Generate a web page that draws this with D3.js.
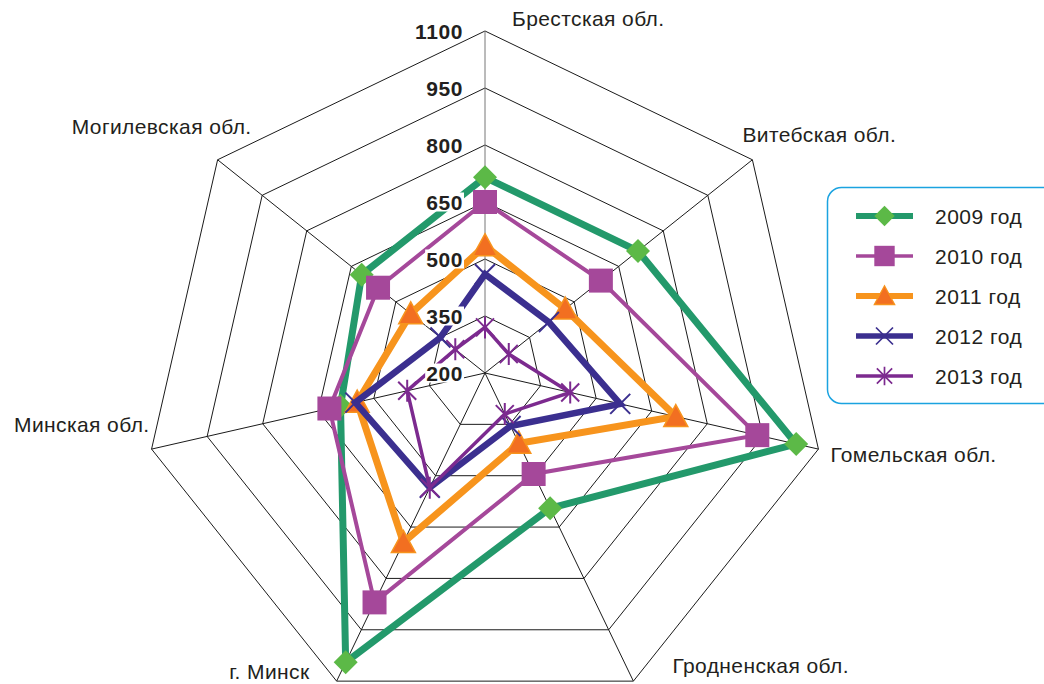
<!DOCTYPE html>
<html>
<head>
<meta charset="utf-8">
<script src="https://cdnjs.cloudflare.com/ajax/libs/d3/7.8.5/d3.min.js"></script>
<style>
  body { margin: 0; background: #fff; }
  svg { display: block; font-family: "Liberation Sans", Arial, sans-serif; }
</style>
</head>
<body>
<div class="radar"></div>
<script>
var regions = ["Брестская обл.", "Витебская обл.", "Гомельская обл.", "Гродненская обл.",
               "г. Минск", "Минская обл.", "Могилевская обл."];
var years = ["2009 год", "2010 год", "2011 год", "2012 год", "2013 год"];
var y2009 = [715, 715, 1040, 595, 1045, 590, 615];
var y2010 = [650, 590, 935, 495, 870, 620, 560];
var y2011 = [535, 470, 715, 405, 695, 545, 450];
var y2012 = [460, 415, 565, 355, 535, 550, 350];
var y2013 = [320, 280, 430, 320, 535, 410, 300];
var ticks = [200, 350, 500, 650, 800, 950, 1100];

var series = [y2009, y2010, y2011, y2012, y2013];
var styles = [
    {line: "#23996b", fill: "#5cb947", width: 7, marker: "diamond"},
    {line: "#a5489a", fill: "#a5489a", width: 4, marker: "square"},
    {line: "#f7941d", fill: "#f26f21", width: 7, marker: "triangle"},
    {line: "#3b2f8f", fill: "#3b2f8f", width: 6.5, marker: "x"},
    {line: "#7c2a8f", fill: "#7c2a8f", width: 3.5, marker: "star"}
];
// label offsets from outer vertex: [dx, dy, anchor]
var labelPos = [[27, -5, "start"], [-10, -18, "start"], [12, 13, "start"], [39, -8, "start"],
                [-27, -2, "end"], [-2, -17, "end"], [34, -26, "end"]];

var width = 1044, height = 684;
var cx = 485, cy = 373, R = 342;

var svg = d3.select("div.radar").append("svg")
    .attr("width", width)
    .attr("height", height);

var r = d3.scaleLinear().domain([200, 1100]).range([0, R]);
var n = regions.length;
var angle = d3.scaleLinear().domain([0, n]).range([0, 2 * Math.PI]);

function pt(i, v) {
    var a = angle(i);
    return [cx + r(v) * Math.sin(a), cy - r(v) * Math.cos(a)];
}

// grid rings
var grid = svg.append("g");
ticks.slice(1).forEach(function (t) {
    grid.append("polygon")
        .attr("points", d3.range(n).map(function (i) { return pt(i, t).join(","); }).join(" "))
        .attr("fill", "none")
        .attr("stroke", "#1a1a1a")
        .attr("stroke-width", 1);
});
// spokes
d3.range(n).forEach(function (i) {
    var p = pt(i, 1100);
    grid.append("line")
        .attr("x1", cx).attr("y1", cy)
        .attr("x2", p[0]).attr("y2", p[1])
        .attr("stroke", i === 0 ? "#777" : "#1a1a1a")
        .attr("stroke-width", 1);
});

// axis labels
d3.range(n).forEach(function (i) {
    var p = pt(i, 1100), o = labelPos[i];
    svg.append("text")
        .attr("x", p[0] + o[0])
        .attr("y", p[1] + o[1])
        .attr("text-anchor", o[2])
        .attr("font-size", 21)
        .attr("letter-spacing", 0.4)
        .attr("fill", "#231f20")
        .text(regions[i]);
});

var line = d3.line()
    .x(function (d, i) { return pt(i, d)[0]; })
    .y(function (d, i) { return pt(i, d)[1]; })
    .curve(d3.curveLinearClosed);

function drawMarker(g, s, x, y, k) {
    k = k || 1;
    var t = "translate(" + x + "," + y + ") scale(" + k + ")";
    if (s.marker === "diamond") {
        g.append("path").attr("d", "M0,-12L12,0L0,12L-12,0Z")
            .attr("transform", t)
            .attr("fill", s.fill);
    } else if (s.marker === "square") {
        g.append("path").attr("d", "M-12,-12H12V12H-12Z")
            .attr("transform", t)
            .attr("fill", s.fill);
    } else if (s.marker === "triangle") {
        g.append("path").attr("d", "M0,-12L12,10L-12,10Z")
            .attr("transform", t)
            .attr("fill", s.fill).attr("stroke", "#f7941d").attr("stroke-width", 1.5);
    } else if (s.marker === "x") {
        g.append("path").attr("d", "M-10,-10L10,10M-10,10L10,-10")
            .attr("transform", t)
            .attr("stroke", s.fill).attr("stroke-width", 2);
    } else {
        g.append("path").attr("d", "M-9,-9L9,9M-9,9L9,-9M0,-11L0,11")
            .attr("transform", t)
            .attr("stroke", s.fill).attr("stroke-width", 2);
    }
}

series.forEach(function (vals, k) {
    var s = styles[k];
    var g = svg.append("g");
    g.append("path")
        .datum(vals)
        .attr("d", line)
        .attr("fill", "none")
        .attr("stroke", s.line)
        .attr("stroke-width", s.width)
        .attr("stroke-linejoin", "miter");
    vals.forEach(function (v, i) {
        var p = pt(i, v);
        drawMarker(g, s, p[0], p[1]);
    });
});

// value labels with white backing
ticks.forEach(function (t) {
    var p = pt(0, t);
    var tg = svg.append("g");
    var txt = tg.append("text")
        .attr("x", p[0] - 22)
        .attr("y", p[1] + 7.5)
        .attr("text-anchor", "end")
        .attr("font-size", 21)
        .attr("letter-spacing", 0.6)
        .attr("font-weight", "bold")
        .attr("fill", "#231f20")
        .text(t);
    var b = txt.node().getBBox();
    if (t < 1100) {
        tg.insert("rect", "text")
            .attr("x", b.x - 1).attr("y", b.y + 2)
            .attr("width", b.width + 2).attr("height", b.height - 4)
            .attr("fill", "#fff");
    }
});

// legend
var lg = svg.append("g");
lg.append("rect")
    .attr("x", 827.5).attr("y", 187.5)
    .attr("width", 230).attr("height", 216)
    .attr("rx", 14)
    .attr("fill", "#fff")
    .attr("stroke", "#1ba3e0")
    .attr("stroke-width", 1.5);
years.forEach(function (name, k) {
    var s = styles[k];
    var y = 216 + k * 40;
    lg.append("line")
        .attr("x1", 856).attr("x2", 913)
        .attr("y1", y).attr("y2", y)
        .attr("stroke", s.line)
        .attr("stroke-width", Math.max(s.width - 1, 3.5));
    drawMarker(lg, s, 884.5, y, 0.85);
    lg.append("text")
        .attr("x", 935).attr("y", y + 7.5)
        .attr("font-size", 21)
        .attr("letter-spacing", 0.5)
        .attr("fill", "#231f20")
        .text(name);
});
</script>
</body>
</html>
